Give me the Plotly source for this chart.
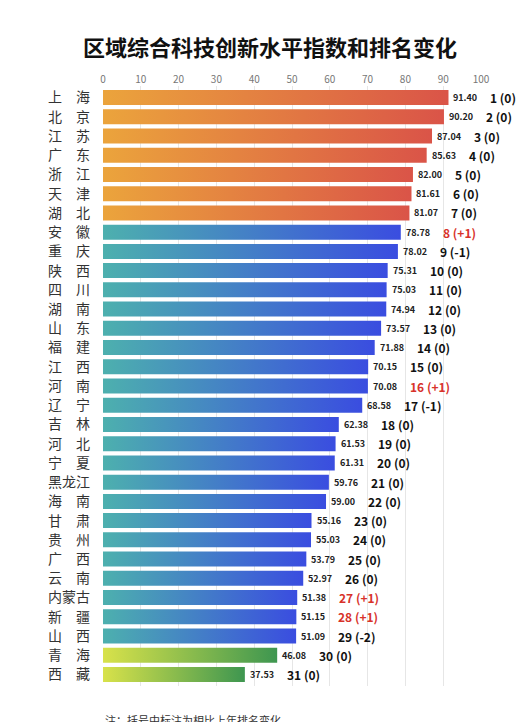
import plotly.graph_objects as go

regions = ['上　海', '北　京', '江　苏', '广　东', '浙　江', '天　津', '湖　北', '安　徽',
           '重　庆', '陕　西', '四　川', '湖　南', '山　东', '福　建', '江　西', '河　南',
           '辽　宁', '吉　林', '河　北', '宁　夏', '黑龙江', '海　南', '甘　肃', '贵　州',
           '广　西', '云　南', '内蒙古', '新　疆', '山　西', '青　海', '西　藏']
scores = [91.40, 90.20, 87.04, 85.63, 82.00, 81.61, 81.07, 78.78, 78.02, 75.31, 75.03,
          74.94, 73.57, 71.88, 70.15, 70.08, 68.58, 62.38, 61.53, 61.31, 59.76, 59.00,
          55.16, 55.03, 53.79, 52.97, 51.38, 51.15, 51.09, 46.08, 37.53]
ranks = list(range(1, 32))
changes = ['0', '0', '0', '0', '0', '0', '0', '+1', '-1', '0', '0', '0', '0', '0', '0',
           '+1', '-1', '0', '0', '0', '0', '0', '0', '0', '0', '0', '+1', '+1', '-2', '0', '0']
ticks = [0, 10, 20, 30, 40, 50, 60, 70, 80, 90, 100]

orange = [[0, '#EBA43C'], [1, '#DA5448']]
blue = [[0, '#4DB0AE'], [1, '#3A4DE0']]
green = [[0, '#D8E24A'], [1, '#3E9650']]

fig = go.Figure()
for i, v in enumerate(scores):
    cs = orange if i < 7 else (green if i >= 29 else blue)
    h = 0.39
    fig.add_trace(go.Scatter(
        x=[0, v, v, 0, 0], y=[i - h, i - h, i + h, i + h, i - h],
        mode='lines', line=dict(width=0), fill='toself',
        fillgradient=dict(type='horizontal', colorscale=cs),
        hoverinfo='skip', showlegend=False))
    fig.add_annotation(x=v, y=i, text='<b>%.2f</b>' % v, showarrow=False,
                       xanchor='left', xshift=3, font=dict(size=9, color='#222'))
    col = '#D8322A' if changes[i].startswith('+') else '#111'
    fig.add_annotation(x=v, y=i, text='<b>%d (%s)</b>' % (ranks[i], changes[i]),
                       showarrow=False, xanchor='left', xshift=40,
                       font=dict(size=12, color=col))

fig.add_annotation(x=0, y=-0.04, xref='paper', yref='paper', xanchor='left',
                   yanchor='top', text='注：括号中标注为相比上年排名变化。', showarrow=False,
                   font=dict(size=11, color='#333'))

fig.update_layout(
    width=524, height=722,
    margin=dict(l=95, r=51, t=78, b=44, autoexpand=False),
    paper_bgcolor='white', plot_bgcolor='white',
    font=dict(family='Noto Sans CJK SC'),
    title=dict(text='<b>区域综合科技创新水平指数和排名变化</b>', x=0.5, y=0.955,
               xanchor='center', font=dict(size=22, color='#111')),
    xaxis=dict(range=[0, 100], side='top', tickvals=ticks, showgrid=True,
               gridcolor='#E6E6E6', zeroline=False, fixedrange=True, automargin=False,
               tickfont=dict(size=10, color='#777')),
    yaxis=dict(range=[30.6, -0.6], tickvals=list(range(31)), ticktext=regions,
               showgrid=False, zeroline=False, ticklabelstandoff=12, automargin=False,
               tickfont=dict(size=14, color='#333')),
)

fig.write_html('out.html')
